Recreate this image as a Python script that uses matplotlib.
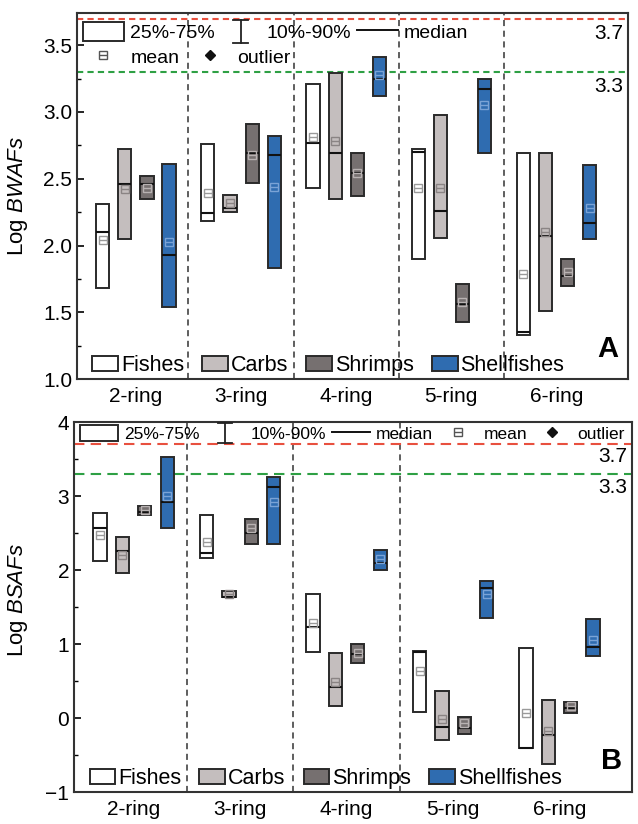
import numpy as np
import matplotlib
matplotlib.use('Agg')
import matplotlib.pyplot as plt
from matplotlib.patches import Patch
from matplotlib.lines import Line2D
from matplotlib.legend_handler import HandlerBase, HandlerTuple

plt.rcParams['font.family'] = ['Liberation Sans', 'DejaVu Sans']
plt.rcParams['mathtext.fontset'] = 'custom'
plt.rcParams['mathtext.rm'] = 'Liberation Sans'
plt.rcParams['mathtext.it'] = 'Liberation Sans:italic'

rings = ['2-ring', '3-ring', '4-ring', '5-ring', '6-ring']
groups = ['Fishes', 'Carbs', 'Shrimps', 'Shellfishes']

# panel A: log BWAFs, rows = Fishes, Carbs, Shrimps, Shellfishes
bwaf_q75 = [[2.31, 2.76, 3.21, 2.72, 2.69],
            [2.72, 2.38, 3.29, 2.98, 2.69],
            [2.52, 2.91, 2.69, 1.71, 1.90],
            [2.61, 2.82, 3.41, 3.25, 2.60]]
bwaf_q25 = [[1.68, 2.18, 2.43, 1.90, 1.33],
            [2.05, 2.25, 2.35, 2.06, 1.51],
            [2.35, 2.47, 2.37, 1.43, 1.70],
            [1.54, 1.83, 3.12, 2.69, 2.05]]
bwaf_med = [[2.10, 2.24, 2.77, 2.70, 1.35],
            [2.46, 2.28, 2.69, 2.26, 2.07],
            [2.46, 2.69, 2.54, 1.56, 1.77],
            [1.93, 2.68, 3.25, 3.17, 2.17]]
bwaf_mean = [[2.04, 2.39, 2.81, 2.43, 1.79],
             [2.42, 2.32, 2.78, 2.43, 2.10],
             [2.43, 2.68, 2.54, 1.58, 1.80],
             [2.03, 2.44, 3.28, 3.05, 2.28]]

# panel B: log BSAFs
bsaf_q75 = [[2.77, 2.74, 1.68, 0.91, 0.95],
            [2.45, 1.72, 0.88, 0.36, 0.24],
            [2.86, 2.69, 1.00, 0.01, 0.21],
            [3.53, 3.26, 2.27, 1.85, 1.34]]
bsaf_q25 = [[2.12, 2.16, 0.89, 0.08, -0.41],
            [1.96, 1.63, 0.16, -0.30, -0.62],
            [2.74, 2.35, 0.75, -0.21, 0.07],
            [2.57, 2.35, 2.00, 1.35, 0.84]]
bsaf_med = [[2.57, 2.23, 1.23, 0.89, -0.40],
            [2.26, 1.64, 0.42, -0.12, -0.23],
            [2.79, 2.50, 0.86, -0.14, 0.14],
            [2.92, 3.12, 2.10, 1.76, 0.96]]
bsaf_mean = [[2.47, 2.38, 1.29, 0.64, 0.07],
             [2.20, 1.68, 0.49, -0.01, -0.18],
             [2.81, 2.57, 0.88, -0.07, 0.16],
             [3.00, 2.92, 2.15, 1.68, 1.05]]

face = ['#ffffff', '#c4bebe', '#767070', '#2f6cb0']
mean_col = ['#9a9a9a', '#8a8484', '#b8b2b2', '#7aa3d6']
edge = '#2a2a2a'


class WhiskerHandler(HandlerBase):
    def create_artists(self, legend, orig_handle, xdescent, ydescent,
                       width, height, fontsize, trans):
        cx = width / 2 - xdescent
        y0 = -ydescent - height * 0.1
        y1 = height - ydescent + height * 0.1
        cw = height * 0.4
        arts = [Line2D([cx, cx], [y0, y1]),
                Line2D([cx - cw, cx + cw], [y0, y0]),
                Line2D([cx - cw, cx + cw], [y1, y1])]
        for a in arts:
            a.set_color('#222222')
            a.set_linewidth(1.3)
            a.set_transform(trans)
        return arts


def draw_panel(ax, q25, q75, med, mean, ylim, ylabel, letter, nsep, one_row):
    x = np.arange(1, len(rings) + 1)
    step = 0.21
    w = 0.125
    for i in range(len(groups)):
        xi = x + (i - 1.5) * step
        lo = np.array(q25[i])
        hi = np.array(q75[i])
        ax.bar(xi, hi - lo, bottom=lo, width=w, color=face[i], edgecolor=edge,
               linewidth=1.4, zorder=3)
        ax.hlines(med[i], xi - w / 2, xi + w / 2, color='#111111', linewidth=1.5, zorder=4)
        ax.plot(xi, mean[i], linestyle='none', marker='s', ms=6, mfc='none',
                mec=mean_col[i], mew=1.0, zorder=5)
        ax.plot(xi, mean[i], linestyle='none', marker='_', ms=6,
                mec=mean_col[i], mew=1.0, zorder=5)

    for s in range(nsep):
        ax.axvline(1.5 + s, color='#333333', linestyle=(0, (4, 3)), linewidth=1.1, zorder=1)

    if one_row:
        dash = (0, (5, 3))
    else:
        dash = (0, (3, 2))
    ax.axhline(3.7, color='#e8503f', linestyle=dash, linewidth=1.5, zorder=2)
    ax.axhline(3.3, color='#2ea044', linestyle=dash, linewidth=1.5, zorder=2)

    ax.set_xlim(0.44, 5.68)
    ax.set_ylim(*ylim)
    ax.set_xticks(x)
    ax.set_xticklabels(rings, fontsize=15)
    ax.tick_params(axis='x', length=0, pad=6)
    ax.tick_params(axis='y', direction='in', labelsize=15, length=5, width=1.2)
    ax.tick_params(axis='y', which='minor', direction='in', length=3, width=1.0)
    ax.set_ylabel(ylabel, fontsize=16)
    for sp in ax.spines.values():
        sp.set_linewidth(1.5)
        sp.set_color('#333333')

    # legend for the categories
    cat_handles = [Patch(facecolor=face[i], edgecolor=edge, linewidth=1.4) for i in range(4)]
    leg1 = ax.legend(cat_handles, groups, loc='lower left', bbox_to_anchor=(0.028, 0.008),
                     ncol=4, frameon=False, fontsize=15.5, handlelength=1.2, handleheight=0.7,
                     handletextpad=0.12, columnspacing=0.85, borderaxespad=0, borderpad=0)
    ax.add_artist(leg1)

    # legend for the box elements
    h_box = Patch(facecolor='white', edgecolor=edge, linewidth=1.4)
    h_wh = Line2D([], [])
    h_med = Line2D([], [], color='#111111', linewidth=1.4)
    h_mean = (Line2D([], [], linestyle='none', marker='s', ms=6, mfc='none', mec='#555555', mew=1.0),
              Line2D([], [], linestyle='none', marker='_', ms=6, mec='#555555', mew=1.0))
    h_out = Line2D([], [], linestyle='none', marker='D', ms=5, color='#111111')
    hmap = {h_wh: WhiskerHandler(), tuple: HandlerTuple(ndivide=1)}
    if one_row:
        ax.legend([h_box, h_wh, h_med, h_mean, h_out],
                  ['25%-75%', '10%-90%', 'median', 'mean', 'outlier'],
                  loc='upper left', bbox_to_anchor=(0.011, 0.993), ncol=5,
                  frameon=False, fontsize=12.5, handlelength=2.2, handleheight=1.1,
                  handletextpad=0.35, columnspacing=0.35, borderaxespad=0, borderpad=0,
                  handler_map=hmap)
    else:
        leg2 = ax.legend([h_box, h_wh, h_med], ['25%-75%', '10%-90%', 'median'],
                         loc='upper left', bbox_to_anchor=(0.011, 0.975), ncol=3,
                         frameon=False, fontsize=14, handlelength=2.1, handleheight=1.1,
                         handletextpad=0.3, columnspacing=0.3, borderaxespad=0, borderpad=0,
                         handler_map=hmap)
        ax.add_artist(leg2)
        ax.legend([h_mean, h_out], ['mean', 'outlier'],
                  loc='upper left', bbox_to_anchor=(0.011, 0.905), ncol=2,
                  frameon=False, fontsize=14, handlelength=2.1, handleheight=0.9,
                  handletextpad=0.36, columnspacing=0.5, borderaxespad=0, borderpad=0,
                  handler_map=hmap)

    if one_row:
        y37, y33 = 3.53, 3.11
    else:
        y37, y33 = 3.59, 3.19
    ax.text(0.992, y37, '3.7', transform=ax.get_yaxis_transform(),
            ha='right', va='center', fontsize=15)
    ax.text(0.992, y33, '3.3', transform=ax.get_yaxis_transform(),
            ha='right', va='center', fontsize=15)
    ax.text(0.982, 0.045, letter, transform=ax.transAxes, ha='right', va='bottom',
            fontsize=21, fontweight='bold')


fig = plt.figure(figsize=(6.38, 8.24), dpi=100)
ax1 = fig.add_axes([0.1207, 0.540, 0.8636, 0.444])
ax2 = fig.add_axes([0.116, 0.0388, 0.8746, 0.449])

draw_panel(ax1, bwaf_q25, bwaf_q75, bwaf_med, bwaf_mean, (1.0, 3.74),
           r'Log $\mathit{BWAFs}$', 'A', 4, False)
ax1.set_yticks(np.arange(1.0, 3.51, 0.5))
ax1.set_yticks(np.arange(1.25, 3.74, 0.5), minor=True)
ax1.yaxis.set_label_coords(-0.085, 0.5)

draw_panel(ax2, bsaf_q25, bsaf_q75, bsaf_med, bsaf_mean, (-1.0, 4.0),
           r'Log $\mathit{BSAFs}$', 'B', 3, True)
ax2.set_yticks(np.arange(-1, 4.1, 1))
ax2.set_yticks(np.arange(-0.5, 4.0, 1), minor=True)
ax2.yaxis.set_label_coords(-0.079, 0.52)

fig.savefig('out.png', dpi=100)
